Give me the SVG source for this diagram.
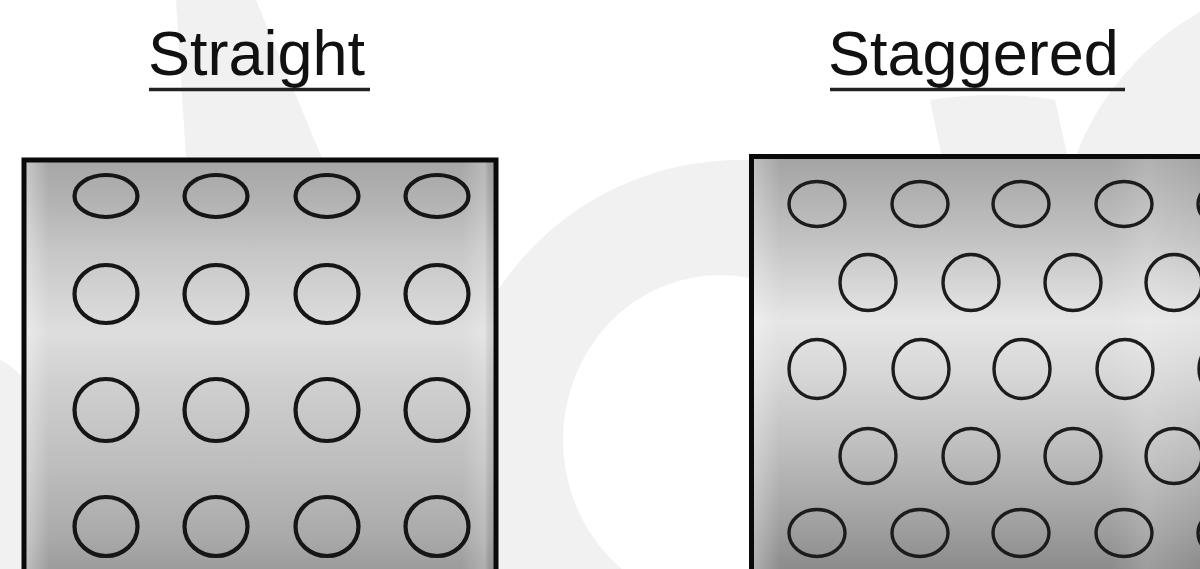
<svg xmlns="http://www.w3.org/2000/svg" width="1200" height="569" viewBox="0 0 1200 569">
  <style>
    .title { font-family: "Liberation Sans", Arial, sans-serif; font-size: 63px; fill: #111; }
    .uline { stroke: #222; stroke-width: 3.5; }
    .wm { fill: #f1f1f1; }
    .box { stroke: #0a0a0a; stroke-width: 5; }
    .holeA { fill: none; stroke: #141414; stroke-width: 4.2; }
    .holeB { fill: none; stroke: #1c1c1c; stroke-width: 3.4; }
  </style>
  <defs>
    <linearGradient id="gA" gradientUnits="userSpaceOnUse" x1="0" y1="160" x2="0" y2="569">
      <stop offset="0" stop-color="#a6a6a6"/>
      <stop offset="0.1" stop-color="#b2b2b2"/>
      <stop offset="0.22" stop-color="#c6c6c6"/>
      <stop offset="0.42" stop-color="#dedede"/>
      <stop offset="0.55" stop-color="#cfcfcf"/>
      <stop offset="0.75" stop-color="#bdbdbd"/>
      <stop offset="0.92" stop-color="#aaaaaa"/>
      <stop offset="1" stop-color="#9c9c9c"/>
    </linearGradient>
    <linearGradient id="gB" gradientUnits="userSpaceOnUse" x1="0" y1="156" x2="0" y2="569">
      <stop offset="0" stop-color="#a3a3a3"/>
      <stop offset="0.2" stop-color="#c2c2c2"/>
      <stop offset="0.4" stop-color="#e6e6e6"/>
      <stop offset="0.52" stop-color="#d8d8d8"/>
      <stop offset="0.72" stop-color="#bcbcbc"/>
      <stop offset="0.88" stop-color="#a2a2a2"/>
      <stop offset="1" stop-color="#8c8c8c"/>
    </linearGradient>
    <linearGradient id="hA" gradientUnits="userSpaceOnUse" x1="26" y1="0" x2="494" y2="0">
      <stop offset="0" stop-color="#fff" stop-opacity="0.35"/>
      <stop offset="0.05" stop-color="#fff" stop-opacity="0"/>
      <stop offset="0.93" stop-color="#fff" stop-opacity="0"/>
      <stop offset="0.98" stop-color="#fff" stop-opacity="0.2"/>
      <stop offset="1" stop-color="#000" stop-opacity="0.05"/>
    </linearGradient>
    <linearGradient id="hB" gradientUnits="userSpaceOnUse" x1="754" y1="0" x2="1200" y2="0">
      <stop offset="0" stop-color="#fff" stop-opacity="0.3"/>
      <stop offset="0.06" stop-color="#fff" stop-opacity="0"/>
      <stop offset="0.8" stop-color="#fff" stop-opacity="0"/>
      <stop offset="0.88" stop-color="#fff" stop-opacity="0.15"/>
      <stop offset="1" stop-color="#fff" stop-opacity="0"/>
    </linearGradient>
    <filter id="soft" x="-5%" y="-5%" width="110%" height="110%">
      <feGaussianBlur stdDeviation="0.5"/>
    </filter>
  </defs>

  <rect x="0" y="0" width="1200" height="569" fill="#ffffff"/>

  <g id="watermark">
    <path class="wm" d="M176,0 L256,0 L322,158 L186,158 Z"/>
    <path class="wm" fill-rule="evenodd" d="M450,450 A290,290 0 1 1 1030,450 A290,290 0 1 1 450,450 Z M563,440 A157,165 0 1 0 877,440 A157,165 0 1 0 563,440 Z"/>
    <path class="wm" d="M930,100 C980,92 1030,95 1055,100 L1068,158 L942,158 Z"/>
    <path class="wm" d="M1075,158 C1100,90 1150,40 1200,12 L1200,158 Z"/>
    <path class="wm" d="M0,360 C10,364 18,372 24,380 L24,569 L0,569 Z"/>
  </g>

  <g id="title-straight">
    <text class="title" x="148" y="75">Straight</text>
    <line class="uline" x1="149" y1="89.5" x2="370" y2="89.5"/>
  </g>
  <g id="title-staggered">
    <text class="title" x="828" y="75">Staggered</text>
    <line class="uline" x1="830" y1="89.5" x2="1125" y2="89.5"/>
  </g>

  <g id="straight-plate">
    <rect x="24" y="160" width="472" height="460" fill="url(#gA)"/>
    <rect x="24" y="160" width="472" height="460" fill="url(#hA)"/>
    <rect class="box" x="24" y="160" width="472" height="460" fill="none"/>
    <g filter="url(#soft)">
      <ellipse class="holeA" cx="106" cy="196" rx="31.5" ry="21"/>
      <ellipse class="holeA" cx="216" cy="196" rx="31.5" ry="21"/>
      <ellipse class="holeA" cx="327" cy="196" rx="31.5" ry="21"/>
      <ellipse class="holeA" cx="437" cy="196" rx="31.5" ry="21"/>
      <ellipse class="holeA" cx="106" cy="294" rx="31.5" ry="29"/>
      <ellipse class="holeA" cx="216" cy="294" rx="31.5" ry="29"/>
      <ellipse class="holeA" cx="327" cy="294" rx="31.5" ry="29"/>
      <ellipse class="holeA" cx="437" cy="294" rx="31.5" ry="29"/>
      <ellipse class="holeA" cx="106" cy="410" rx="31.5" ry="31"/>
      <ellipse class="holeA" cx="216" cy="410" rx="31.5" ry="31"/>
      <ellipse class="holeA" cx="327" cy="410" rx="31.5" ry="31"/>
      <ellipse class="holeA" cx="437" cy="410" rx="31.5" ry="31"/>
      <ellipse class="holeA" cx="106" cy="526.5" rx="31.5" ry="29.5"/>
      <ellipse class="holeA" cx="216" cy="526.5" rx="31.5" ry="29.5"/>
      <ellipse class="holeA" cx="327" cy="526.5" rx="31.5" ry="29.5"/>
      <ellipse class="holeA" cx="437" cy="526.5" rx="31.5" ry="29.5"/>
    </g>
  </g>

  <g id="staggered-plate">
    <rect x="751.5" y="156.5" width="470" height="470" fill="url(#gB)"/>
    <rect x="751.5" y="156.5" width="470" height="470" fill="url(#hB)"/>
    <rect class="box" x="751.5" y="156.5" width="470" height="470" fill="none"/>
    <g filter="url(#soft)">
      <ellipse class="holeB" cx="817" cy="204" rx="28" ry="22.5"/>
      <ellipse class="holeB" cx="920" cy="204" rx="28" ry="22.5"/>
      <ellipse class="holeB" cx="1021" cy="204" rx="28" ry="22.5"/>
      <ellipse class="holeB" cx="1124" cy="204" rx="28" ry="22.5"/>
      <ellipse class="holeB" cx="1226" cy="204" rx="28" ry="22.5"/>
      <ellipse class="holeB" cx="868" cy="282.5" rx="28" ry="28"/>
      <ellipse class="holeB" cx="971" cy="282.5" rx="28" ry="28"/>
      <ellipse class="holeB" cx="1073" cy="282.5" rx="28" ry="28"/>
      <ellipse class="holeB" cx="1174" cy="282.5" rx="28" ry="28"/>
      <ellipse class="holeB" cx="817" cy="369" rx="28" ry="29.5"/>
      <ellipse class="holeB" cx="921" cy="369" rx="28" ry="29.5"/>
      <ellipse class="holeB" cx="1022" cy="369" rx="28" ry="29.5"/>
      <ellipse class="holeB" cx="1125" cy="369" rx="28" ry="29.5"/>
      <ellipse class="holeB" cx="1227" cy="369" rx="28" ry="29.5"/>
      <ellipse class="holeB" cx="868" cy="456" rx="28" ry="27.5"/>
      <ellipse class="holeB" cx="971" cy="456" rx="28" ry="27.5"/>
      <ellipse class="holeB" cx="1073" cy="456" rx="28" ry="27.5"/>
      <ellipse class="holeB" cx="1174" cy="456" rx="28" ry="27.5"/>
      <ellipse class="holeB" cx="817" cy="533" rx="28" ry="23.5"/>
      <ellipse class="holeB" cx="920" cy="533" rx="28" ry="23.5"/>
      <ellipse class="holeB" cx="1021" cy="533" rx="28" ry="23.5"/>
      <ellipse class="holeB" cx="1124" cy="533" rx="28" ry="23.5"/>
      <ellipse class="holeB" cx="1226" cy="533" rx="28" ry="23.5"/>
    </g>
  </g>
</svg>
